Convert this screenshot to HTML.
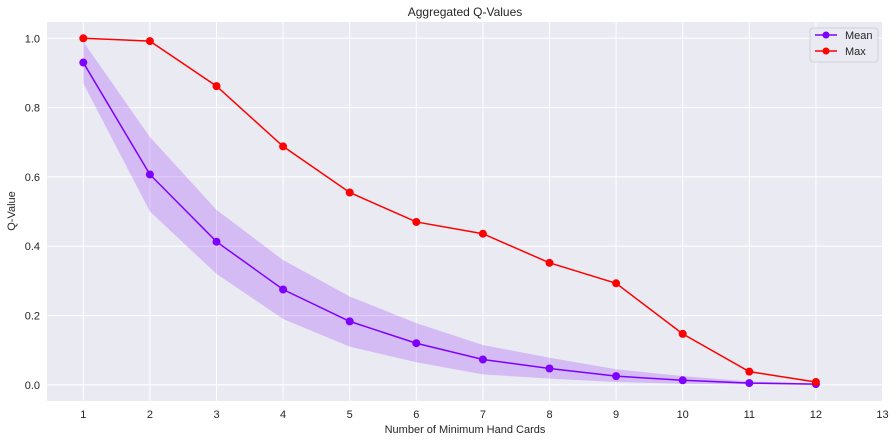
<!DOCTYPE html>
<html><head><meta charset="utf-8"><style>
body{margin:0;background:#fff;font-family:"Liberation Sans",Arial,sans-serif;}
svg text{font-family:"Liberation Sans",Arial,sans-serif;fill:#262626;}
</style></head><body>
<svg id="chart" width="896" height="442" xmlns="http://www.w3.org/2000/svg">
<text x="465" y="16" font-size="12" text-anchor="middle">Aggregated Q-Values</text>
<rect x="47" y="22" width="836" height="379" fill="#eaeaf2"/>
<g id="grid"></g><g id="band"></g><g id="lines"></g>
<text x="465" y="433" font-size="11" text-anchor="middle">Number of Minimum Hand Cards</text>
<text transform="translate(15,211) rotate(-90)" font-size="11" text-anchor="middle">Q-Value</text>
<g>
<rect x="810" y="28" width="68" height="34" rx="3" fill="#eaeaf2" stroke="#d0d0d8"/>
<g><line x1="815" y1="35" x2="837" y2="35" stroke="#7f00ff" stroke-width="1.5"/><circle cx="826" cy="35" r="3.5" fill="#7f00ff"/><text x="845" y="39" font-size="11">Mean</text></g>
<g><line x1="815" y1="51" x2="837" y2="51" stroke="#ff0000" stroke-width="1.5"/><circle cx="826" cy="51" r="3.5" fill="#ff0000"/><text x="845" y="55" font-size="11">Max</text></g>
</g>
</svg>
<script>
const categories=[1,2,3,4,5,6,7,8,9,10,11,12];
const meanValues=[0.93,0.607,0.413,0.275,0.183,0.12,0.073,0.047,0.025,0.013,0.005,0.002];
const maxValues=[1.0,0.992,0.862,0.688,0.555,0.47,0.436,0.352,0.293,0.147,0.038,0.008];
const bandUpper=[0.99,0.715,0.505,0.36,0.255,0.178,0.115,0.078,0.045,0.025,0.01,0.004];
const bandLower=[0.87,0.5,0.32,0.19,0.11,0.065,0.03,0.018,0.008,0.003,0.001,0.0];
const xTicks=[1,2,3,4,5,6,7,8,9,10,11,12,13];
const yTicks=[0,0.2,0.4,0.6,0.8,1.0];
const NS="http://www.w3.org/2000/svg";
const xs=v=>83.3+(v-1)*66.6;
const ys=v=>384.8-v*346.5;
function mk(t,a,p){const e=document.createElementNS(NS,t);for(const k in a)e.setAttribute(k,a[k]);p.appendChild(e);return e;}
const grid=document.getElementById('grid'),svg=document.getElementById('chart');
xTicks.forEach(t=>{
 const l=mk('line',{x1:xs(t),x2:xs(t),y1:22,y2:401,stroke:'#fff','stroke-width':1},grid);
 
 
 const tx=mk('text',{x:xs(t),y:418,'font-size':11,'text-anchor':'middle'},svg);
 tx.textContent=t;
 
 
});
yTicks.forEach(t=>{
 const l=mk('line',{x1:47,x2:883,y1:ys(t),y2:ys(t),stroke:'#fff','stroke-width':1},grid);
 
 
 const tx=mk('text',{x:40,y:ys(t)+4,'font-size':11,'text-anchor':'end'},svg);
 tx.textContent=t.toFixed(1);
 
 
});
let pts=categories.map((c,i)=>xs(c)+','+ys(bandUpper[i]));
for(let i=categories.length-1;i>=0;i--)pts.push(xs(categories[i])+','+ys(bandLower[i]));
const band=mk('polygon',{points:pts.join(' '),fill:'#7f00ff','fill-opacity':0.2,stroke:'none'},document.getElementById('band'));


const lines=document.getElementById('lines');
[[meanValues,'#7f00ff','mean'],[maxValues,'#ff0000','max']].forEach(([vals,col,nm])=>{
 const pl=mk('polyline',{points:categories.map((c,i)=>xs(c)+','+ys(vals[i])).join(' '),fill:'none',stroke:col,'stroke-width':1.5},lines);
 
 
 categories.forEach((c,i)=>{
  const p=mk('circle',{cx:xs(c),cy:ys(vals[i]),r:4,fill:col},lines);
  
  
 });
});
</script>
</body></html>
